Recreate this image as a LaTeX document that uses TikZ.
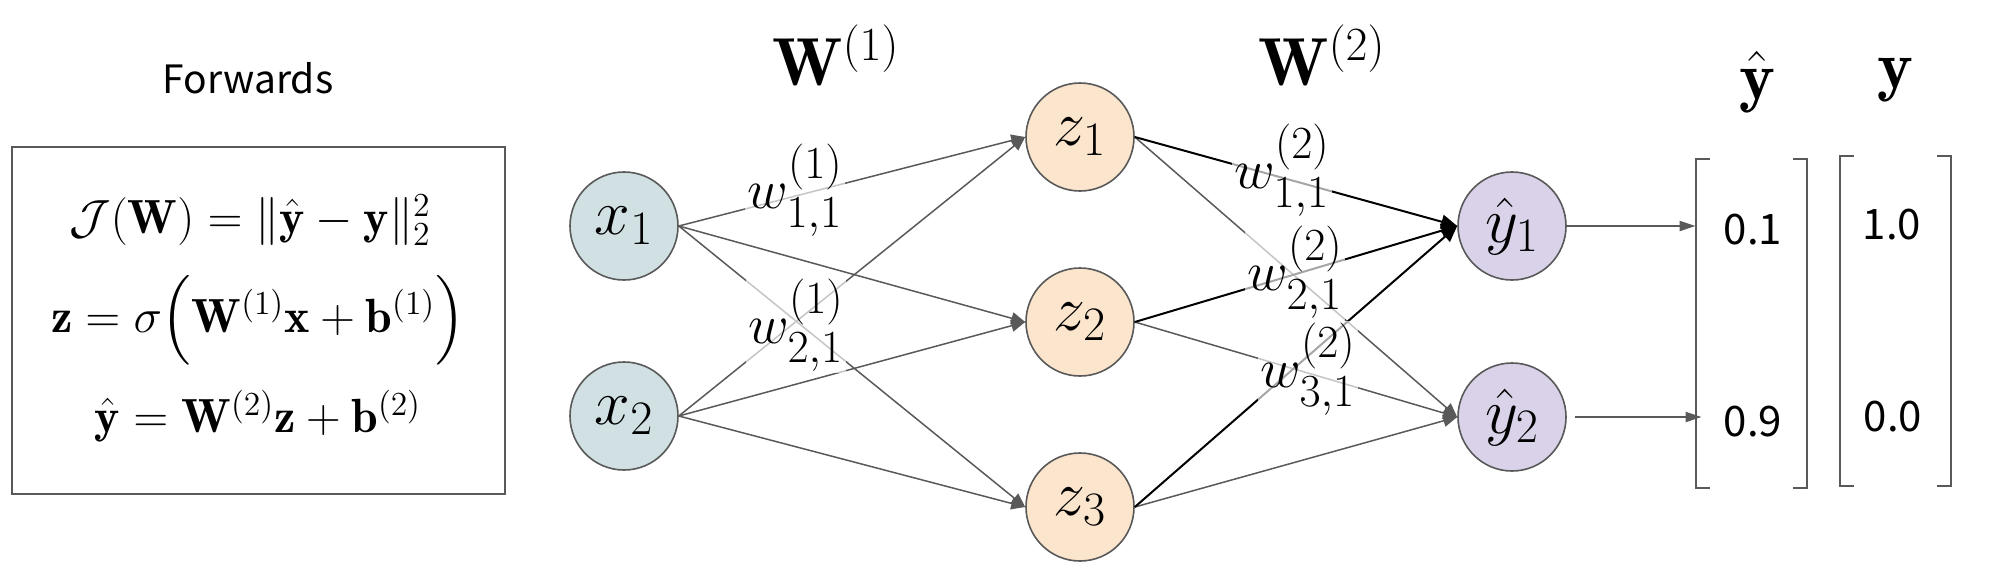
\RequirePackage{fix-cm}
\documentclass[tikz,border=0pt]{standalone}
\usepackage{amsmath}
\usepackage{fontspec}
\newfontfamily\slidefont{Noto Sans CJK KR}
\usetikzlibrary{arrows.meta}
\DeclareMathSizes{32}{32}{24}{18}
\DeclareMathSizes{28}{28}{23}{17}
\definecolor{edgegray}{HTML}{595959}
\definecolor{inputfill}{HTML}{D0E0E3}
\definecolor{hiddenfill}{HTML}{FCE5CD}
\definecolor{outputfill}{HTML}{D9D2E9}
\tikzset{
  neuron/.style={circle, draw=edgegray, line width=0.8pt, minimum size=54pt,
    inner sep=0pt, font=\fontsize{32}{38}\selectfont},
  synapse/.style={draw=edgegray, line width=0.75pt, -{Triangle[length=7pt,width=6pt]}},
  strong/.style={draw=black, line width=1pt, -{Triangle[length=8pt,width=7pt]}},
  readout/.style={draw=edgegray, line width=1pt, -{Triangle[length=8pt,width=5pt]}},
  weight/.style={fill=white, fill opacity=0.65, text opacity=1, inner sep=1pt,
    font=\fontsize{28}{34}\selectfont},
  heading/.style={anchor=base, font=\fontsize{34}{40}\selectfont},
  formula/.style={font=\fontsize{24}{29}\selectfont},
  vector/.style={minimum width=55.5pt, minimum height=164.5pt, inner sep=0pt},
  bracket/.style={draw=edgegray, line width=1pt},
  entry/.style={font=\slidefont\fontsize{21}{25}\selectfont},
}

\begin{document}
\begin{tikzpicture}[x=0.5pt, y=-0.5pt]
  \useasboundingbox (0,0) rectangle (2002,579);

  % forward pass equations
  \node[font=\slidefont\fontsize{19.5}{24}\selectfont] (fwdtitle) at (248,78) {Forwards};
  \node[draw=edgegray, line width=1pt, minimum width=246.5pt, minimum height=173.5pt,
    inner sep=0pt] (fwdbox) at (258.5,320.5) {};
  \node[formula] (cost) at (250,220) {$\mathcal{J}(\mathbf{W}) = \|\hat{\mathbf{y}}-\mathbf{y}\|_2^2$};
  \node[formula] (hidden) at (258,320) {$\mathbf{z} = \sigma\Big(\mathbf{W}^{(1)}\mathbf{x}+\mathbf{b}^{(1)}\Big)$};
  \node[formula] (output) at (258,416) {$\hat{\mathbf{y}} = \mathbf{W}^{(2)}\mathbf{z}+\mathbf{b}^{(2)}$};

  % neurons
  \node[neuron, fill=inputfill] (x1) at (624,226) {$x_1$};
  \node[neuron, fill=inputfill] (x2) at (624,416) {$x_2$};
  \foreach \i/\y in {1/137,2/322,3/507}
    \node[neuron, fill=hiddenfill] (z\i) at (1080,\y) {$z_\i$};
  \node[neuron, fill=outputfill] (yh1) at (1512,226) {$\hat{y}_1$};
  \node[neuron, fill=outputfill] (yh2) at (1512,417) {$\hat{y}_2$};

  % connections
  \foreach \i in {1,2}
    \foreach \j in {1,2,3}
      \draw[synapse] (x\i.east) -- (z\j.west);
  \foreach \j in {1,2,3} {
    \draw[synapse] (z\j.east) -- (yh2.west);
    \draw[strong] (z\j.east) -- (yh1.west);
  }

  % weights
  \node[weight] (w111) at (795,190) {$w^{(1)}_{1,1}$};
  \node[weight] (w121) at (796,325) {$w^{(1)}_{2,1}$};
  \node[weight] (w211) at (1282,170) {$w^{(2)}_{1,1}$};
  \node[weight] (w221) at (1295,272) {$w^{(2)}_{2,1}$};
  \node[weight] (w231) at (1308,369) {$w^{(2)}_{3,1}$};

  % layer headings
  \node[heading] (W1) at (836,85) {$\mathbf{W}^{(1)}$};
  \node[heading] (W2) at (1322,85) {$\mathbf{W}^{(2)}$};
  \node[heading] (yhhead) at (1757,99) {$\hat{\mathbf{y}}$};
  \node[heading] (yhead) at (1895,88) {$\mathbf{y}$};

  % prediction and target vectors
  \node[vector] (yhvec) at (1751.5,323.5) {};
  \node[vector] (yvec) at (1895.5,321) {};
  \foreach \v in {yhvec,yvec} {
    \draw[bracket] ([xshift=7pt]\v.north west) -- (\v.north west) -- (\v.south west) -- ++(7pt,0);
    \draw[bracket] ([xshift=-7pt]\v.north east) -- (\v.north east) -- (\v.south east) -- ++(-7pt,0);
  }
  \node[entry] (yh1val) at (1753,230) {0.1};
  \node[entry] (yh2val) at (1753,422) {0.9};
  \node[entry] (y1val) at (1892,225) {1.0};
  \node[entry] (y2val) at (1893,417) {0.0};

  \draw[readout] (yh1.east) -- (yh1.east -| yhvec.west);
  \draw[readout, shorten <=4pt, shorten >=-3pt] (yh2.east) -- (yh2.east -| yhvec.west);
\end{tikzpicture}
\end{document}
